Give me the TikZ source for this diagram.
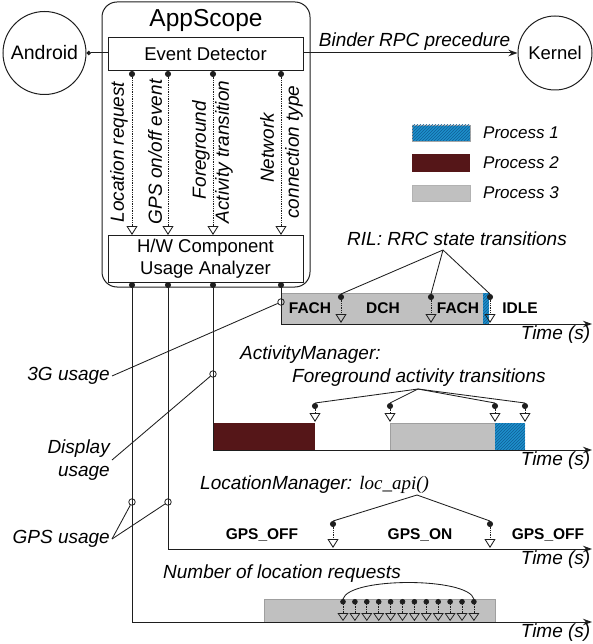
\documentclass[tikz,border=0pt]{standalone}
\usepackage{fontspec}
\setmainfont{Liberation Sans}
\newfontfamily\timesfont{Liberation Serif}
\usetikzlibrary{arrows.meta,patterns}
\definecolor{procblue}{RGB}{30,144,204}
\definecolor{hatchblue}{RGB}{15,95,150}
\definecolor{procred}{RGB}{85,22,24}
\definecolor{procgrey}{RGB}{192,192,192}
\definecolor{linec}{RGB}{30,30,30}
\tikzset{
  base/.style={line width=1pt, draw=linec},
  thinl/.style={line width=0.85pt, draw=linec},
  evarrow/.style={line width=0.75pt, draw=linec, densely dotted,
    {Circle[length=6pt,width=6pt]}-{Triangle[open,length=9pt,width=11pt,line width=0.85pt]}},
  reqarrow/.style={line width=0.65pt, draw=linec, densely dotted,
    {Circle[length=5.5pt,width=5.5pt]}-{Triangle[open,length=8pt,width=11pt,line width=0.75pt]}},
  lbl/.style={font=\fontsize{19}{23}\selectfont\itshape},
  leg/.style={font=\fontsize{17}{20}\selectfont\itshape},
  reg/.style={font=\fontsize{18.5}{22}\selectfont},
  st/.style={font=\fontsize{15.5}{17}\selectfont\bfseries},
  usec/.style={circle, draw=linec, line width=0.8pt, inner sep=0pt, minimum size=6.5pt},
  axisline/.style={line width=1pt, draw=linec, {Circle[length=6pt,width=6pt]}-{Stealth[length=9pt,width=6.5pt]}},
  pblue/.style={fill=procblue, postaction={pattern=north east lines, pattern color=hatchblue}},
}
\begin{document}
\begin{tikzpicture}[x=1pt,y=-1pt]
\useasboundingbox (0,0) rectangle (593,644);

% ---------- top part ----------
\node[draw=linec, line width=1pt, rounded corners=15pt, minimum width=208pt, minimum height=285pt, inner sep=0pt] (scope) at (206,144.5) {};
\node[font=\fontsize{24.5}{26}\selectfont] (title) at (206,20) {AppScope};
\node[draw=linec, line width=1pt, minimum width=195pt, minimum height=33pt, inner sep=0pt, reg] (ed) at (205.5,54.5) {Event Detector};
\node[draw=linec, line width=1pt, minimum width=195pt, minimum height=47pt, inner sep=0pt, reg, align=center] (hw) at (205.5,258.5) {H/W Component\\Usage Analyzer};

\node[circle, draw=linec, line width=1pt, minimum size=83pt, inner sep=0pt, font=\fontsize{19.5}{22}\selectfont] (android) at (44.5,53) {Android};
\node[circle, draw=linec, line width=1pt, minimum size=74pt, inner sep=0pt, reg] (kernel) at (555,53) {Kernel};

\coordinate (edl) at (108,53);
\coordinate (edr) at (303,53);
\draw[base, {Circle[length=4.5pt,width=4.5pt]}-] (android.east) -- (edl);
\draw[base, -{Stealth[length=9pt,width=6.5pt]}] (edr) -- (kernel.west)
  node[lbl, above, pos=0.52, inner sep=2pt] (binder) {Binder RPC precedure};

\foreach \i/\x in {1/132,2/168,3/213,4/281} {
  \coordinate (ea\i) at (\x,71);
  \coordinate (eb\i) at (\x,235);
  \draw[evarrow] (ea\i) -- (eb\i);
}
\node[lbl, rotate=90] (e1) at (119,152) {Location request};
\node[lbl, rotate=90] (e2) at (155,152) {GPS on/off event};
\node[lbl, rotate=90] (e3a) at (201,150) {Foreground};
\node[lbl, rotate=90] (e3b) at (224,152) {Activity transition};
\node[lbl, rotate=90] (e4a) at (267,148) {Network};
\node[lbl, rotate=90] (e4b) at (294,152) {connection type};

% ---------- legend ----------
\node[pblue, draw=gray!70, line width=0.4pt, minimum width=58pt, minimum height=16pt, inner sep=0pt] (lg1) at (441,133) {};
\node[fill=procred, minimum width=58pt, minimum height=18pt, inner sep=0pt] (lg2) at (441,163) {};
\node[fill=procgrey, draw=gray!60, line width=0.4pt, minimum width=58pt, minimum height=16pt, inner sep=0pt] (lg3) at (441,193) {};
\node[leg, anchor=west, inner sep=0pt] (lt1) at (483,133) {Process 1};
\node[leg, anchor=west, inner sep=0pt] (lt2) at (483,163) {Process 2};
\node[leg, anchor=west, inner sep=0pt] (lt3) at (483,193) {Process 3};

% ---------- timeline boxes ----------
\fill[procgrey, draw=gray!75, line width=0.4pt] (281,293) rectangle (483,324);
\fill[pblue] (483,293) rectangle (489,324);
\fill[procred] (213,423) rectangle (315,450);
\fill[procgrey, draw=gray!75, line width=0.4pt] (390,423) rectangle (495,450);
\fill[pblue] (495,423) rectangle (525,450);
\fill[procgrey, draw=gray!75, line width=0.4pt] (264,599) rectangle (495,622);

% ---------- axes from H/W analyzer ----------
\foreach \i/\x/\y in {1/132/622,2/168/549,3/213/450,4/281/324} {
  \coordinate (ha\i) at (\x,282);
  \coordinate (hc\i) at (\x,\y);
  \coordinate (hd\i) at (592,\y);
  \draw[axisline] (ha\i) -- (hc\i) -- (hd\i);
}
\node[lbl, anchor=north east, inner sep=1.5pt] (time4) at (hd4) {Time (s)};
\node[lbl, anchor=north east, inner sep=1.5pt] (time3) at (hd3) {Time (s)};
\node[lbl, anchor=north east, inner sep=1.5pt] (time2) at (hd2) {Time (s)};
\node[lbl, anchor=north east, inner sep=1.5pt] (time1) at (hd1) {Time (s)};

% ---------- 3G: RRC ----------
\node[st] (fach1) at (310,308) {FACH};
\node[st] (dch) at (383,308) {DCH};
\node[st] (fach2) at (458,308) {FACH};
\node[st] (idle) at (520,308) {IDLE};
\node[lbl] (ril) at (457,239) {RIL: RRC state transitions};
\coordinate (rilapex) at (443,250);
\foreach \i/\x in {1/341,2/431,3/490} {
  \coordinate (ra\i) at (\x,294);
  \coordinate (rb\i) at (\x,323);
  \draw[evarrow] (ra\i) -- (rb\i);
  \draw[thinl] (rilapex) -- (ra\i);
}

% ---------- Activity ----------
\node[lbl, anchor=west, inner sep=0pt] (am1) at (240,355) {ActivityManager:};
\node[lbl, anchor=west, inner sep=0pt] (am2) at (292,378) {Foreground activity transitions};
\coordinate (amapex) at (418,389);
\foreach \i/\x in {1/315,2/390,3/495,4/525} {
  \coordinate (aa\i) at (\x,403);
  \coordinate (ab\i) at (\x,422);
  \draw[evarrow] (aa\i) -- (ab\i);
  \draw[thinl] (amapex) -- (aa\i);
}

% ---------- Location manager ----------
\node[lbl, anchor=west, inner sep=0pt] (lm) at (200,485) {LocationManager: {\timesfont\itshape loc\_api()}};
\coordinate (lmapex) at (417,495);
\foreach \i/\x in {1/333,2/490} {
  \coordinate (la\i) at (\x,521);
  \coordinate (lb\i) at (\x,548);
  \draw[evarrow] (la\i) -- (lb\i);
  \draw[thinl] (lmapex) -- (la\i);
}
\node[st] (goff1) at (262,535) {GPS\_OFF};
\node[st] (gon) at (420,535) {GPS\_ON};
\node[st] (goff2) at (548,535) {GPS\_OFF};

% ---------- Location requests ----------
\node[lbl, anchor=west, inner sep=0pt] (nlr) at (163,574) {Number of location requests};
\foreach \k in {0,...,11} {
  \coordinate (qa\k) at ({343+11.9*\k},599);
  \coordinate (qb\k) at ({343+11.9*\k},621);
  \draw[reqarrow] (qa\k) -- (qb\k);
}
\draw[thinl] (qa0) .. controls (349,577) and (468,577) .. (qa11);

% ---------- usage labels ----------
\node[usec] (u3g) at (281,302) {};
\node[usec] (udisp) at (213,374) {};
\node[usec] (ugps1) at (132,502) {};
\node[usec] (ugps2) at (168,502) {};
\node[lbl, anchor=east, inner sep=2pt] (l3g) at (112,376) {3G usage};
\node[lbl, anchor=east, align=right, inner sep=2pt] (ldisp) at (112,460) {Display\\usage};
\node[lbl, anchor=east, inner sep=2pt] (lgps) at (112,539) {GPS usage};
\draw[thinl] (l3g.east) -- (u3g);
\draw[thinl] (ldisp.east) -- (udisp);
\draw[thinl] (lgps.east) -- (ugps1);
\draw[thinl] (lgps.east) -- (ugps2);
\end{tikzpicture}
\end{document}
